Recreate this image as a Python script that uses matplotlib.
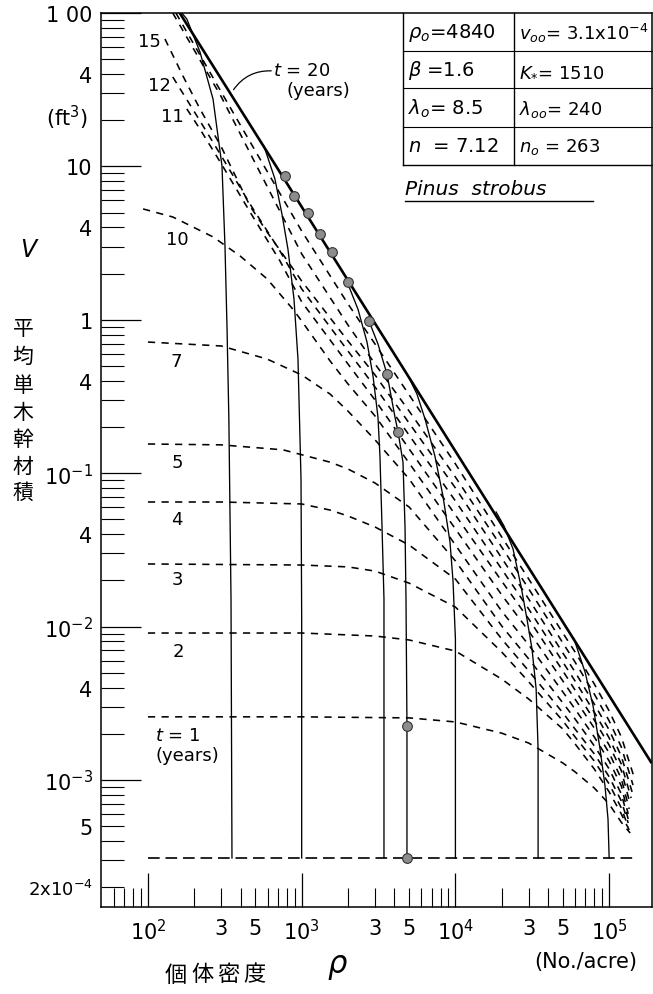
import numpy as np
import matplotlib
matplotlib.use('Agg')
import matplotlib.pyplot as plt
from matplotlib.lines import Line2D
from matplotlib.patches import FancyArrowPatch

plt.rcParams['font.family'] = ['DejaVu Sans', 'Noto Sans CJK JP']
plt.rcParams['mathtext.fontset'] = 'dejavusans'

#__Données__ : densité rho (No./acre), volume moyen V (ft3)

v00 = 3.1e-4
rho_v00 = [100, 1.5e5]

# droite t = 20 ans (trait épais)
rho_t20 = [161, 1.87e5]
v_t20 = [100, 1.31e-3]

# isochrones (tirets)
rho_t1 = [100, 1000, 5000, 1e4, 2e4, 3e4, 5e4, 6e4, 8e4, 1e5, 1.2e5, 1.37e5]
v_t1 = [2.58e-3, 2.58e-3, 2.54e-3, 2.39e-3, 2.02e-3, 1.74e-3, 1.29e-3, 1.13e-3, 8.87e-4, 6.97e-4, 5.3e-4, 4.51e-4]

rho_t2 = [100, 1000, 3000, 5000, 1e4, 2e4, 3e4, 5e4, 6e4, 8e4, 1e5, 1.2e5, 1.35e5]
v_t2 = [9.08e-3, 9.08e-3, 8.68e-3, 8.18e-3, 6.93e-3, 4.55e-3, 3.37e-3, 2.15e-3, 1.72e-3, 1.18e-3, 8.36e-4, 6.0e-4, 4.72e-4]

rho_t3 = [100, 1000, 2000, 3000, 5000, 1e4, 2e4, 3e4, 5e4, 6e4, 8e4, 1e5, 1.2e5, 1.33e5]
v_t3 = [2.56e-2, 2.52e-2, 2.45e-2, 2.30e-2, 1.92e-2, 1.34e-2, 6.83e-3, 4.36e-3, 2.43e-3, 1.91e-3, 1.33e-3, 9.42e-4, 6.57e-4, 4.94e-4]

rho_t4 = [100, 300, 1000, 1530, 2000, 3000, 5000, 1e4, 2e4, 3e4, 5e4, 6e4, 8e4, 1e5, 1.2e5, 1.33e5]
v_t4 = [6.49e-2, 6.49e-2, 6.30e-2, 5.75e-2, 5.26e-2, 4.46e-2, 3.40e-2, 2.04e-2, 8.30e-3, 5.14e-3, 2.74e-3, 2.15e-3, 1.48e-3, 1.05e-3, 7.30e-4, 5.25e-4]

rho_t5 = [100, 300, 756, 1530, 2000, 3000, 5000, 1e4, 2e4, 3e4, 5e4, 6e4, 8e4, 1e5, 1.2e5, 1.33e5]
v_t5 = [0.155, 0.153, 0.142, 0.118, 0.1065, 8.63e-2, 6.02e-2, 2.68e-2, 1.01e-2, 6.15e-3, 3.18e-3, 2.50e-3, 1.67e-3, 1.18e-3, 8.11e-4, 5.57e-4]

rho_t7 = [100, 300, 595, 1000, 1530, 2000, 3000, 5000, 1e4, 2e4, 3e4, 5e4, 6e4, 8e4, 1e5, 1.2e5, 1.33e5]
v_t7 = [0.716, 0.675, 0.555, 0.437, 0.328, 0.254, 0.165, 9.17e-2, 3.40e-2, 1.26e-2, 7.59e-3, 3.75e-3, 2.90e-3, 1.91e-3, 1.33e-3, 9.14e-4, 6.0e-4]

rho_t10 = [93, 145, 265, 397, 595, 878, 1000, 1530, 2000, 3000, 5000, 1e4, 2e4, 3e4, 5e4, 6e4, 8e4, 1e5, 1.2e5, 1.35e5]
v_t10 = [5.28, 4.68, 3.47, 2.61, 1.85, 1.17, 0.982, 0.539, 0.382, 0.236, 0.1165, 4.33e-2, 1.61e-2, 9.35e-3, 4.42e-3, 3.37e-3, 2.18e-3, 1.50e-3, 1.02e-3, 6.47e-4]

rho_t11 = [179, 218, 300, 461, 722, 1000, 2000, 3000, 5000, 1e4, 2e4, 3e4, 5e4, 6e4, 8e4, 1e5, 1.2e5, 1.37e5]
v_t11 = [23.7, 17.5, 10.4, 5.05, 2.42, 1.31, 0.515, 0.300, 0.144, 5.34e-2, 1.98e-2, 1.12e-2, 5.14e-3, 3.86e-3, 2.46e-3, 1.69e-3, 1.15e-3, 6.97e-4]

rho_t12 = [145, 218, 300, 461, 722, 1000, 2000, 3000, 5000, 1e4, 2e4, 3e4, 5e4, 6e4, 8e4, 1e5, 1.2e5, 1.39e5]
v_t12 = [38.3, 19.8, 11.7, 5.69, 2.81, 1.59, 0.626, 0.365, 0.177, 6.59e-2, 2.37e-2, 1.30e-2, 5.87e-3, 4.42e-3, 2.77e-3, 1.88e-3, 1.27e-3, 7.63e-4]

rho_t15 = [129, 169, 218, 300, 461, 595, 1000, 2000, 3000, 5000, 1e4, 2e4, 3e4, 5e4, 6e4, 8e4, 1e5, 1.2e5, 1.41e5]
v_t15 = [67.7, 38.8, 23.7, 13.4, 5.52, 3.74, 1.79, 0.728, 0.437, 0.212, 8.01e-2, 2.80e-2, 1.51e-2, 6.73e-3, 5.06e-3, 3.13e-3, 2.12e-3, 1.43e-3, 8.36e-4]

# deux isochrones sans étiquette, près de la droite t = 20
rho_u1 = [145, 300, 1000, 2000, 3000, 5000, 1e4, 2e4, 3e4, 5e4, 6e4, 8e4, 1e5, 1.2e5, 1.43e5]
v_u1 = [100, 28.4, 2.69, 0.925, 0.515, 0.254, 9.44e-2, 3.30e-2, 1.76e-2, 7.82e-3, 5.87e-3, 3.64e-3, 2.43e-3, 1.64e-3, 9.27e-4]

rho_u2 = [152, 300, 1000, 2000, 3000, 5000, 1e4, 2e4, 3e4, 5e4, 6e4, 8e4, 1e5, 1.2e5, 1.45e5]
v_u2 = [100, 30.5, 3.79, 1.27, 0.695, 0.324, 0.115, 3.84e-2, 2.04e-2, 9.08e-3, 6.83e-3, 4.23e-3, 2.82e-3, 1.91e-3, 1.05e-3]

# trajectoires (traits fins) depuis la densité initiale
rho_tr1 = [352, 347, 336, 327, 317, 303, 265, 218, 179, 166]
v_tr1 = [3.1e-4, 1.51e-2, 0.226, 0.871, 3.03, 10.1, 27.5, 55.7, 91.4, 100]

rho_tr2 = [1000, 1000, 990, 946, 891, 814, 744, 670, 568]
v_tr2 = [3.1e-4, 1.12e-2, 9.17e-2, 0.555, 1.37, 2.89, 4.89, 8.27, 13.6]

rho_tr3 = [3430, 3430, 3330, 3230, 3135, 2910, 2660, 2325, 2000]
v_tr3 = [3.1e-4, 1.51e-2, 4.53e-2, 0.129, 0.232, 0.431, 0.716, 1.17, 1.71]

rho_tr4 = [4840, 4840, 4770, 4700, 4560, 4235, 4045, 3590, 3135, 2740]
v_tr4 = [3.1e-4, 2.25e-3, 1.51e-2, 4.53e-2, 0.118, 0.186, 0.232, 0.443, 0.695, 0.982]

rho_tr5 = [1e4, 1e4, 9650, 9220, 8300, 7360, 6340, 5620, 4915]
v_tr5 = [3.1e-4, 8.30e-3, 1.98e-2, 3.56e-2, 7.10e-2, 0.129, 0.226, 0.328, 0.431]

rho_tr6 = [3.45e4, 3.45e4, 3.35e4, 3.15e4, 2.92e4, 2.67e4, 2.37e4, 2.07e4, 1.84e4]
v_tr6 = [3.1e-4, 1.59e-3, 3.92e-3, 7.14e-3, 1.12e-2, 1.84e-2, 3.21e-2, 4.53e-2, 5.58e-2]

rho_tr7 = [1e5, 9.83e4, 9.40e4, 8.73e4, 7.86e4, 6.97e4, 5.91e4]
v_tr7 = [3.1e-4, 5.57e-4, 9.14e-4, 1.59e-3, 3.04e-3, 5.06e-3, 8.30e-3]

# points observés (Pinus strobus)
rho_obs = [778, 891, 1099, 1315, 1574, 2000, 2740, 3590, 4235, 4840, 4840]
v_obs = [8.65, 6.41, 4.97, 3.62, 2.77, 1.76, 0.98, 0.444, 0.186, 2.25e-3, 3.1e-4]

# paramètres du tableau
tab_gauche = [r'$\rho_o$=4840', r'$\beta$ =1.6', r'$\lambda_o$= 8.5', r'$n$  = 7.12']
tab_droite = [r'$v_{oo}$= 3.1x10$^{-4}$', r'$K_{*}$= 1510', r'$\lambda_{oo}$= 240', r'$n_o$ = 263']

# ============================================================
W, H = 653, 995

def px(x, y):
    return x / W, 1 - y / H

fig = plt.figure(figsize=(W / 100, H / 100), dpi=100)
ax = fig.add_axes([101 / W, 1 - 908 / H, 551 / W, 894 / H])
ax.set_xscale('log')
ax.set_yscale('log')
ax.set_xlim(49.5, 1.9e5)
ax.set_ylim(1.486e-4, 100)

tirets = (0, (4.5, 4))
isochrones = [(rho_t1, v_t1), (rho_t2, v_t2), (rho_t3, v_t3), (rho_t4, v_t4),
              (rho_t5, v_t5), (rho_t7, v_t7), (rho_t10, v_t10), (rho_t11, v_t11),
              (rho_t12, v_t12), (rho_t15, v_t15), (rho_u1, v_u1), (rho_u2, v_u2)]
for r, v in isochrones:
    ax.plot(r, v, color='k', lw=1.15, ls=tirets)

ax.plot(rho_v00, [v00, v00], color='k', lw=1.2, ls=(0, (7, 3.5)))

trajectoires = [(rho_tr1, v_tr1), (rho_tr2, v_tr2), (rho_tr3, v_tr3), (rho_tr4, v_tr4),
                (rho_tr5, v_tr5), (rho_tr6, v_tr6), (rho_tr7, v_tr7)]
for r, v in trajectoires:
    ax.plot(r, v, color='k', lw=0.95)

ax.plot(rho_t20, v_t20, color='k', lw=1.9)
ax.plot(rho_obs, v_obs, 'o', ms=7, mfc='#8c8c8c', mec='#333333', mew=0.8, zorder=5)

# graduations
ax.set_xticks([1e2, 1e3, 1e4, 1e5])
ax.set_xticklabels(['$10^2$', '$10^3$', '$10^4$', '$10^5$'])
xmin, xlab = [], []
for e in (1, 2, 3, 4):
    for k in range(2, 10):
        t = k * 10.0 ** e
        if 55 < t < 1.9e5:
            xmin.append(t)
            xlab.append(str(k) if k in (3, 5) and e > 1 else '')
ax.set_xticks(xmin, minor=True)
ax.set_xticklabels(xlab, minor=True)

ax.set_yticks([1e-3, 1e-2, 1e-1, 1, 10, 100])
ax.set_yticklabels(['$10^{-3}$', '$10^{-2}$', '$10^{-1}$', '1', '10', '1 00'])
ymin, ylab = [], []
for e in (-4, -3, -2, -1, 0, 1):
    for k in range(2, 10):
        t = k * 10.0 ** e
        if t < 1.49e-4:
            continue
        ymin.append(t)
        if k == 4 and e > -4:
            ylab.append('4')
        elif k == 5 and e == -4:
            ylab.append('5')
        elif k == 2 and e == -4:
            ylab.append('2x10$^{-4}$')
        else:
            ylab.append('')
ax.set_yticks(ymin, minor=True)
ax.set_yticklabels(ylab, minor=True)

ax.tick_params(axis='y', which='major', direction='in', length=29, width=0.9, pad=6, labelsize=15)
ax.tick_params(axis='y', which='minor', direction='in', length=16.5, width=0.8, pad=6, labelsize=15)
ax.tick_params(axis='x', which='major', direction='in', length=24.5, width=0.9, pad=8, labelsize=15)
ax.tick_params(axis='x', which='minor', direction='in', length=13.7, width=0.8, pad=8, labelsize=15)
for lab in ax.get_yticklabels(minor=True):
    if 'x' in lab.get_text():
        lab.set_fontsize(13)
for s in ax.spines.values():
    s.set_linewidth(1.1)

# étiquettes des isochrones
for txt, (x, y) in [('15', (149, 42)), ('12', (159, 86)), ('11', (172, 117)), ('10', (177, 240)),
                    ('7', (176, 362)), ('5', (177, 463)), ('4', (177, 520)), ('3', (177, 580)),
                    ('2', (178, 652)), ('$t$ = 1', (178, 736)), ('(years)', (187, 756))]:
    fig.text(*px(x, y), txt, fontsize=13, ha='center', va='center')

fig.text(*px(302, 71), '$t$ = 20', fontsize=13, ha='center', va='center')
fig.text(*px(318, 91), '(years)', fontsize=13, ha='center', va='center')
fig.add_artist(FancyArrowPatch(px(274, 72), px(232, 93), transform=fig.transFigure,
                               arrowstyle='-', connectionstyle='arc3,rad=0.3', lw=0.9, color='k'))

# tableau des paramètres
def trait(x0, y0, x1, y1, lw=1.0):
    fig.add_artist(Line2D([x0 / W, x1 / W], [1 - y0 / H, 1 - y1 / H], transform=fig.transFigure,
                          color='k', lw=lw))

trait(403, 14, 403, 166)
trait(514, 14, 514, 166)
trait(403, 166, 652, 166)
for y in (52, 89, 128):
    trait(403, y, 652, y, lw=0.8)
for i, y in enumerate((33, 71, 109, 147)):
    fig.text(*px(408, y), tab_gauche[i], fontsize=14, ha='left', va='center')
    fig.text(*px(519, y), tab_droite[i], fontsize=13, ha='left', va='center')

fig.text(*px(405, 190), 'Pinus  strobus', fontsize=14.5, style='italic', ha='left', va='center')
trait(405, 202, 593, 202)

# titres des axes
fig.text(*px(67, 118), '(ft$^3$)', fontsize=15, ha='center', va='center')
fig.text(*px(30, 250), '$V$', fontsize=17, ha='center', va='center')
for ch, y in zip('平均単木幹材積', (329, 357, 386, 413, 440, 467, 493)):
    fig.text(*px(23, y), ch, fontsize=15, ha='center', va='center', family=['Noto Sans CJK JP'])
for ch, x in zip('個体密度', (176, 202, 228, 254)):
    fig.text(*px(x, 975), ch, fontsize=16, ha='center', va='center', family=['Noto Sans CJK JP'])
fig.text(*px(338, 968), r'$\rho$', fontsize=22, ha='center', va='center')
fig.text(*px(586, 962), '(No./acre)', fontsize=15, ha='center', va='center')

fig.savefig('out.png', dpi=100)
